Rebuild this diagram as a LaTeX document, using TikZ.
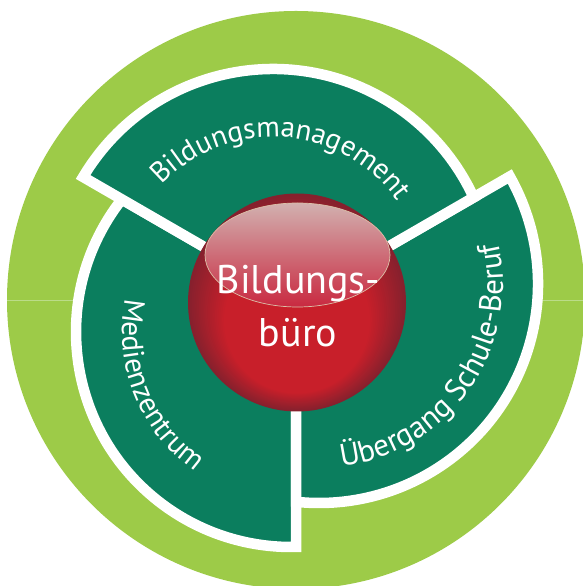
\documentclass[tikz,border=0pt]{standalone}
\usepackage{fontspec}
\setmainfont{PT Sans}
\usetikzlibrary{decorations.text}
\definecolor{lgreen}{HTML}{9DCB48}
\definecolor{lline}{HTML}{BBDC88}
\definecolor{dgreen}{HTML}{0B7E5E}
\definecolor{ballred}{HTML}{C81F2A}
\definecolor{balldark}{HTML}{86202D}
\definecolor{hltop}{HTML}{D2B0AF}
\definecolor{hlmid}{HTML}{B8727A}
\definecolor{hlbot}{HTML}{C92940}
\definecolor{hlline}{HTML}{DCC0A8}
\newcommand\curvefont{\fontsize{29}{31}\selectfont\color{white}}
\newcommand\curvefontb{\fontsize{29.5}{31}\selectfont\color{white}}
\newcommand\curvefontc{\fontsize{31}{33}\selectfont\color{white}}
\begin{document}
\begin{tikzpicture}[x=1pt,y=1pt,
  sector/.style={fill=dgreen, draw=white, line width=10.5pt, line join=miter},
  centertext/.style={text=white, font=\fontsize{40}{48}\selectfont, anchor=base, inner sep=0pt},
  arctext/.style={decorate, decoration={text along path, text align=center, text={#1}}}]
\useasboundingbox (0,0) rectangle (583,586);
\fill[white] (0,0) rectangle (583,586);
\begin{scope}
  \clip (0,0) rectangle (583,586);
  \fill[lgreen] (296,286) circle[radius=289];
  \begin{scope}
    \clip (296,286) circle[radius=289];
    \draw[lline, line width=0.8pt] (0,286) -- (583,286);
  \end{scope}
  % Medienzentrum
  \path[sector] (296,286) -- (121.8,386.6) arc[start angle=141.92, end angle=271.33, radius=215] -- cycle;
  % Uebergang
  \path[sector] (296,286) -- (509.8,409.5) arc[start angle=29.4, end angle=-96.03, radius=219] -- cycle;
  % Bildungsmanagement
  \path[sector] (296,286) -- (83.1,409) arc[start angle=149.25, end angle=24.77, radius=221] -- cycle;
  % ball: layered radial gradient
  \fill[balldark] (297,283.5) circle[radius=109];
  \foreach \i in {1,...,20} {
    \pgfmathsetmacro{\pc}{\i*5}
    \pgfmathsetmacro{\rr}{109-\i*1.8}
    \pgfmathsetmacro{\yy}{283.5-\i*0.9}
    \fill[ballred!\pc!balldark] (297,\yy) circle[radius=\rr];
  }
  \shade[top color=hltop, middle color=hlmid, bottom color=hlbot, draw=hlline, line width=0.7pt] (297.5,331) ellipse[x radius=92.5, y radius=52];
\end{scope}
\node[centertext] (l1) at (298.5,292) {Bildungs-};
\node[centertext] (l2) at (298,239.3) {büro};
\path[arctext={|\curvefont|Bildungsmanagement}] (273,296) ++(156:153) arc[start angle=156, end angle=16, radius=153];
\path[arctext={|\curvefontb|Medienzentrum}] (291,254) ++(145:169) arc[start angle=145, end angle=259, radius=169];
\path[arctext={|\curvefontc|Übergang Schule-Beruf}] (319,302) ++(-126:184) arc[start angle=-126, end angle=56, radius=184];
\end{tikzpicture}
\end{document}
